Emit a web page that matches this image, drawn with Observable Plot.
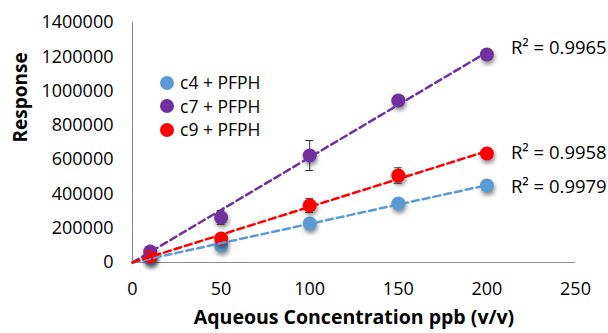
<!DOCTYPE html>
<html>
<head>
<meta charset="utf-8">
<script src="https://cdn.jsdelivr.net/npm/d3@7"></script>
<script src="https://cdn.jsdelivr.net/npm/@observablehq/plot@0.6"></script>
<style>
  html, body { margin: 0; padding: 0; background: #fff; }
  #wrap { position: relative; width: 608px; height: 333px; font-family: "Open Sans", sans-serif; }
  #legend { position: absolute; left: 160px; top: 71px; font-size: 17.5px; line-height: 23.5px; color: #000; }
  #legend .item { display: flex; align-items: center; white-space: nowrap; }
  #legend .sw { display: inline-block; width: 14px; height: 14px; border-radius: 50%; margin-right: 6px; }
</style>
</head>
<body>
<div id="wrap"><div id="legend"></div></div>
<script>
// ---- data ----
const conc = [10, 50, 100, 150, 200];
const xTicks = [0, 50, 100, 150, 200, 250];
const yTicks = [0, 200000, 400000, 600000, 800000, 1000000, 1200000, 1400000];

const seriesNames = ["c4 + PFPH", "c7 + PFPH", "c9 + PFPH"];
const seriesColors = ["#5B9BD5", "#7030A0", "#FF0000"];
const c4Values = [23000, 99000, 227500, 344000, 449000];
const c7Values = [64000, 262500, 624000, 945000, 1213000];
const c9Values = [35000, 140000, 332500, 507500, 636000];
const c4Err = [5000, 10000, 15000, 15000, 12000];
const c7Err = [15000, 40000, 87500, 25000, 15000];
const c9Err = [12000, 20000, 40000, 45000, 15000];
const r2Labels = ["R² = 0.9979", "R² = 0.9965", "R² = 0.9958"];
const r2Dy = [2, -6, 0];

const xTitle = "Aqueous Concentration ppb (v/v)";
const yTitle = "Response";

// ---- build ----
const allVals = [c4Values, c7Values, c9Values];
const allErr = [c4Err, c7Err, c9Err];

const marks = [];
marks.push(Plot.ruleX([0], {stroke: "#8c8c8c", strokeWidth: 1}));
marks.push(Plot.ruleY([0], {stroke: "#8c8c8c", strokeWidth: 1}));

[0, 1, 2].forEach(si => {
  const vals = allVals[si];
  const rows = conc.map((x, i) => ({x, y: vals[i], err: allErr[si][i]}));
  marks.push(Plot.ruleX(rows, {x: "x", y1: d => d.y - d.err, y2: d => d.y + d.err, stroke: "#333", strokeWidth: 1}));
  marks.push(Plot.ruleY(rows, {y: d => d.y + d.err, x1: d => d.x - 2.2, x2: d => d.x + 2.2, stroke: "#333", strokeWidth: 1}));
  marks.push(Plot.ruleY(rows, {y: d => d.y - d.err, x1: d => d.x - 2.2, x2: d => d.x + 2.2, stroke: "#333", strokeWidth: 1}));
});
[0, 1, 2].forEach(si => {
  const vals = allVals[si];
  const rows = conc.map((x, i) => ({x, y: vals[i]}));
  marks.push(Plot.dot(rows, {x: "x", y: "y", r: 7, fill: seriesColors[si], stroke: "none"}));
});
[0, 1, 2].forEach(si => {
  const vals = allVals[si];
  // least squares fit through origin
  const sxy = d3.sum(conc, (x, i) => x * vals[i]);
  const sxx = d3.sum(conc, x => x * x);
  const slope = sxy / sxx;
  const xmax = d3.max(conc);
  const fit = [{x: 0, y: 0}, {x: xmax, y: slope * xmax}];
  marks.push(Plot.line(fit, {x: "x", y: "y", stroke: seriesColors[si], strokeWidth: 2.5, strokeDasharray: "7,4"}));
  const last = conc.length - 1;
  marks.push(Plot.text([{x: conc[last], y: vals[last], t: r2Labels[si]}], {
    x: "x", y: "y", text: "t", textAnchor: "start", dx: 24, dy: r2Dy[si], fontSize: 18.5, fill: "#000"
  }));
});

marks.push(Plot.text([xTitle], {frameAnchor: "bottom", dy: 61, fontSize: 19.5, fontWeight: "bold", fill: "#000"}));
marks.push(Plot.text([yTitle], {frameAnchor: "left", dx: -112, rotate: -90, fontSize: 19, fontWeight: "bold", fill: "#000"}));

const chart = Plot.plot({
  width: 608,
  height: 333,
  marginLeft: 132,
  marginRight: 33,
  marginTop: 22,
  marginBottom: 71,
  style: {fontFamily: "Open Sans, sans-serif", fontSize: "18px", color: "#000", background: "#fff", overflow: "visible"},
  x: {domain: [0, 250], ticks: xTicks, tickSize: 0, tickPadding: 20, label: null, tickFormat: d3.format("d")},
  y: {domain: [0, 1400000], ticks: yTicks, tickSize: 0, tickPadding: 19, label: null, tickFormat: d3.format("d")},
  marks
});

d3.select(chart).selectAll("circle").style("filter", "drop-shadow(1px 3px 2px rgba(0,0,0,0.45))");

const wrap = document.getElementById("wrap");
wrap.insertBefore(chart, wrap.firstChild);

const legend = document.getElementById("legend");
seriesNames.forEach((n, i) => {
  const it = document.createElement("div");
  it.className = "item";
  const sw = document.createElement("span");
  sw.className = "sw";
  sw.style.background = seriesColors[i];
  it.appendChild(sw);
  it.appendChild(document.createTextNode(n));
  legend.appendChild(it);
});
</script>
</body>
</html>
